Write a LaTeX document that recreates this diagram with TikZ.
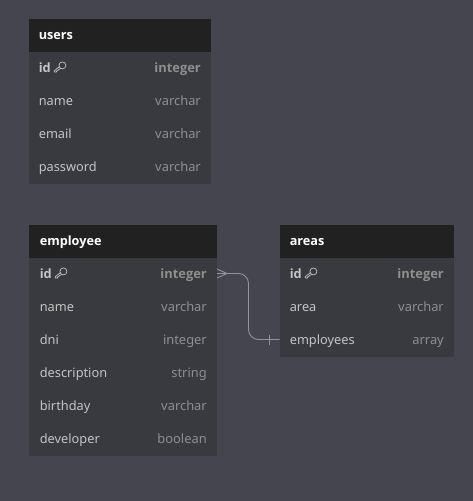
\documentclass[tikz,border=0pt]{standalone}
\usepackage{fontspec}
\setmainfont{Noto Sans}[BoldFont={Open Sans Bold}]
\definecolor{canvasbg}{HTML}{45454F}
\definecolor{tablebg}{HTML}{393940}
\definecolor{headbg}{HTML}{212121}
\definecolor{fieldtext}{HTML}{C4C4C4}
\definecolor{typetext}{HTML}{8E8E8E}
\definecolor{linkline}{HTML}{92929A}
\tikzset{
  tablebox/.style={fill=tablebg,draw=none,inner sep=0pt,anchor=north west},
  headbox/.style={fill=headbg,draw=none,inner sep=0pt,anchor=north west,minimum height=33pt},
  headtext/.style={anchor=base west,xshift=-0.4pt,yshift=-0.5pt,text=white,font=\fontsize{12.7}{15}\selectfont\bfseries,inner sep=0pt},
  fieldname/.style={anchor=base west,xshift=-0.4pt,yshift=-0.5pt,text=fieldtext,font=\fontsize{12.8}{15}\selectfont,inner sep=0pt},
  fieldtype/.style={anchor=base east,yshift=-0.5pt,text=typetext,font=\fontsize{12.9}{15}\selectfont,inner sep=0pt},
  keyname/.style={fieldname,font=\fontsize{12.8}{15}\selectfont\bfseries},
  keytype/.style={fieldtype,font=\fontsize{12.9}{15}\selectfont\bfseries},
  link/.style={draw=linkline,line width=0.9pt},
}
% small key glyph next to a primary key
\newcommand{\keyicon}[1]{
  \draw[fieldtext,line width=0.7pt,shift={(#1)}] (3.4,-1.6) circle (3.5);
  \draw[fieldtext,line width=0.7pt,shift={(#1)},line join=round] (0.4,-0.4) -- (-4.8,3.8) -- (-4.8,5) -- (-2.6,5) -- (-2.4,3.8) -- (-1,3.7) -- (-0.9,2.6) -- (1.9,1.5);
}
\begin{document}
\begin{tikzpicture}[x=1pt,y=-1pt]
\fill[canvasbg] (0,0) rectangle (473,501);
\useasboundingbox (0,0) rectangle (473,501);

% users
\node[tablebox,minimum width=182pt,minimum height=165pt] (users) at (29,19) {};
\node[headbox,minimum width=182pt] (usershead) at (29,19) {};
\node[headtext] (userstitle) at (39,39) {users};
\node[keyname] (usersid) at (39,72) {id};
\keyicon{59,67}
\node[keytype] (usersidtype) at (201,72) {integer};
\node[fieldname] (usersname) at (39,105) {name};
\node[fieldtype] (usersnametype) at (201,105) {varchar};
\node[fieldname] (usersemail) at (39,138) {email};
\node[fieldtype] (usersemailtype) at (201,138) {varchar};
\node[fieldname] (userspass) at (39,171) {password};
\node[fieldtype] (userspasstype) at (201,171) {varchar};

% employee
\node[tablebox,minimum width=188pt,minimum height=231pt] (employee) at (29,225) {};
\node[headbox,minimum width=188pt] (employeehead) at (29,225) {};
\node[headtext] (employeetitle) at (40,245) {employee};
\node[keyname] (employeeid) at (40,278) {id};
\keyicon{60,273}
\node[keytype] (employeeidtype) at (207,278) {integer};
\node[fieldname] (employeename) at (40,311) {name};
\node[fieldtype] (employeenametype) at (207,311) {varchar};
\node[fieldname] (employeedni) at (40,344) {dni};
\node[fieldtype] (employeednitype) at (207,344) {integer};
\node[fieldname] (employeedesc) at (40,377) {description};
\node[fieldtype] (employeedesctype) at (207,377) {string};
\node[fieldname] (employeebirth) at (40,410) {birthday};
\node[fieldtype] (employeebirthtype) at (207,410) {varchar};
\node[fieldname] (employeedev) at (40,443) {developer};
\node[fieldtype] (employeedevtype) at (207,443) {boolean};

% areas
\node[tablebox,minimum width=174.5pt,minimum height=132pt] (areas) at (279.5,225) {};
\node[headbox,minimum width=174.5pt] (areashead) at (279.5,225) {};
\node[headtext] (areastitle) at (290,245) {areas};
\node[keyname] (areasid) at (290,278) {id};
\keyicon{310,273}
\node[keytype] (areasidtype) at (444,278) {integer};
\node[fieldname] (areasarea) at (290,311) {area};
\node[fieldtype] (areasareatype) at (444,311) {varchar};
\node[fieldname] (areasemp) at (290,344) {employees};
\node[fieldtype] (areasemptype) at (444,344) {array};

% link with crow's foot and single bar
\coordinate (footend) at (217,273.5);
\coordinate (barend) at (279.5,339.5);
\coordinate (foottip) at ([xshift=10pt]footend);
\coordinate (bartick) at ([xshift=-10pt]barend);
\draw[link,rounded corners=10pt] (footend) -- (248.5,273.5) -- (248.5,339.5) -- (barend);
\draw[link] (foottip) -- ([yshift=-4.5pt]footend);
\draw[link] (foottip) -- ([yshift=4.5pt]footend);
\draw[link] ([yshift=-5pt]bartick) -- ([yshift=5pt]bartick);
\end{tikzpicture}
\end{document}
